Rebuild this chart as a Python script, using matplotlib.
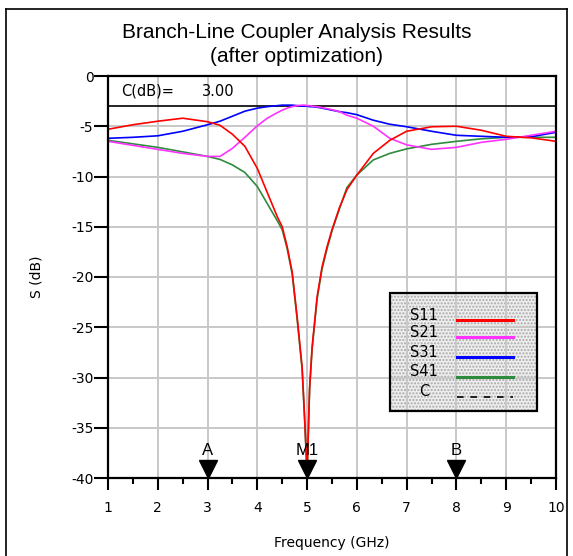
import matplotlib.pyplot as plt
import matplotlib.patches as mpatches
from matplotlib.lines import Line2D
import numpy as np

plt.rcParams['axes.unicode_minus'] = False

# Frequency points (GHz) and S-parameter values (dB)
freq = [1, 1.5, 2, 2.5, 3, 3.25, 3.5, 3.75, 4, 4.2, 4.4, 4.5, 4.6, 4.7, 4.8, 4.9,
        4.95, 5, 5.05, 5.1, 5.2, 5.3, 5.4, 5.5, 5.65, 5.8, 6, 6.33, 6.66, 7, 7.5,
        8, 8.5, 9, 9.5, 10]
s11 = [-5.3, -4.85, -4.5, -4.2, -4.55, -4.9, -5.8, -7.0, -9.2, -11.6, -14.0, -15.0,
       -17.0, -19.5, -24.0, -29.0, -34.0, -39.5, -31.0, -27.0, -22.0, -19.0, -17.0,
       -15.3, -13.1, -11.3, -9.85, -7.7, -6.4, -5.5, -5.05, -5.0, -5.4, -6.0, -6.15, -6.5]
s21 = [-6.5, -6.9, -7.3, -7.7, -8.0, -8.0, -7.2, -6.1, -4.95, -4.2, -3.65, -3.4,
       -3.2, -3.05, -2.95, -2.9, -2.9, -2.95, -2.95, -3.0, -3.05, -3.15, -3.25,
       -3.35, -3.55, -3.9, -4.2, -5.0, -6.2, -6.85, -7.3, -7.1, -6.6, -6.3, -5.9, -5.5]
s31 = [-6.2, -6.1, -5.95, -5.5, -4.85, -4.5, -4.0, -3.5, -3.2, -3.05, -2.95, -2.9,
       -2.9, -2.9, -2.95, -3.0, -3.0, -3.0, -3.05, -3.05, -3.1, -3.2, -3.3, -3.4,
       -3.55, -3.65, -3.85, -4.4, -4.8, -5.05, -5.5, -5.9, -6.0, -6.1, -6.05, -5.6]
s41 = [-6.4, -6.75, -7.1, -7.55, -8.0, -8.3, -8.85, -9.6, -11.0, -12.7, -14.4, -15.3,
       -17.2, -19.7, -24.2, -29.2, -34.2, -39.7, -31.2, -27.2, -22.2, -19.2, -17.2,
       -15.4, -13.2, -11.1, -9.85, -8.35, -7.7, -7.25, -6.8, -6.5, -6.25, -6.1, -6.1, -6.1]
c_level = -3.0

series_names = ['S11', 'S21', 'S31', 'S41']
series_colors = ['#ff0000', '#ff33ff', '#0000ff', '#2e8b3e']

marker_names = ['A', 'M1', 'B']
marker_freq = [3, 5, 8]

fig = plt.figure(figsize=(5.73, 5.56), dpi=100)
ax = fig.add_axes([108 / 573, 1 - 478 / 556, 448 / 573, 402 / 556])

# outer frame of the picture
for xs, ys in [([0.0105, 0.0105], [0, 0.9838]), ([0.0105, 0.9895], [0.9838, 0.9838]),
               ([0.9895, 0.9895], [0, 0.9838])]:
    fig.add_artist(Line2D(xs, ys, color='black', lw=1.2, transform=fig.transFigure))

ax.axhline(c_level, color='black', lw=1.2, zorder=2)
for vals, col in zip([s41, s31, s21, s11], series_colors[::-1]):
    ax.plot(freq, vals, color=col, lw=1.2, zorder=2.5)

ax.set_xlim(1, 10)
ax.set_ylim(-40, 0)
ax.set_xticks(np.arange(1, 11))
ax.set_xticks(np.arange(1.5, 10, 1), minor=True)
ax.set_yticks(np.arange(-40, 1, 5))
ax.grid(True, which='major', color='#c8c8c8', lw=1.4)
for sp in ax.spines.values():
    sp.set_linewidth(1.6)
ax.tick_params(axis='x', which='major', length=8.5, width=1.5, pad=8, labelsize=10)
ax.tick_params(axis='x', which='minor', length=4, width=1.5)
ax.tick_params(axis='y', which='major', length=10, width=1.5, pad=0.5, labelsize=10)
ax.set_xlabel('Frequency (GHz)', fontsize=10, labelpad=15)
ax.set_ylabel('S (dB)', fontsize=10, labelpad=20)

# frequency markers
for name, fx in zip(marker_names, marker_freq):
    ax.plot(fx, -39.1, marker='v', color='black', markersize=13, clip_on=False, zorder=4)
    ax.text(fx, -37.3, name, ha='center', va='center', fontsize=12,
            family='Liberation Sans', zorder=4)

ax.text(0.03, 0.962, 'C(dB)=', transform=ax.transAxes, fontsize=10.5, va='center')
ax.text(0.21, 0.962, '3.00', transform=ax.transAxes, fontsize=10.5, va='center')

# legend box drawn by hand
lx0, lx1, ly0, ly1 = 0.629, 0.958, 0.167, 0.460
ax.add_patch(mpatches.Rectangle((lx0, ly0), lx1 - lx0, ly1 - ly0, transform=ax.transAxes,
                                facecolor='#eeeeee', edgecolor='#a8a8a8', hatch='.....',
                                lw=0, zorder=1))
ax.add_patch(mpatches.Rectangle((lx0, ly0), lx1 - lx0, ly1 - ly0, transform=ax.transAxes,
                                fill=False, edgecolor='black', lw=1.6, zorder=3))
leg_y = [0.405, 0.363, 0.312, 0.264, 0.214]
for i, (name, col) in enumerate(zip(series_names + ['C'], series_colors + ['black'])):
    ax.text(0.705, leg_y[i], name, transform=ax.transAxes, ha='center', va='center',
            fontsize=10.5, zorder=4)
    ax.plot([0.78, 0.905], [leg_y[i] - 0.012] * 2, transform=ax.transAxes, color=col,
            lw=2.2 if name != 'C' else 1.2, ls='-' if name != 'C' else (0, (4, 4)), zorder=4)

fig.text(297 / 573, 1 - 33 / 556, 'Branch-Line Coupler Analysis Results', ha='center',
         va='center', fontsize=15, family='Liberation Sans')
fig.text(297 / 573, 1 - 57 / 556, '(after optimization)', ha='center', va='center',
         fontsize=15, family='Liberation Sans')

fig.savefig('out.png', dpi=100)
